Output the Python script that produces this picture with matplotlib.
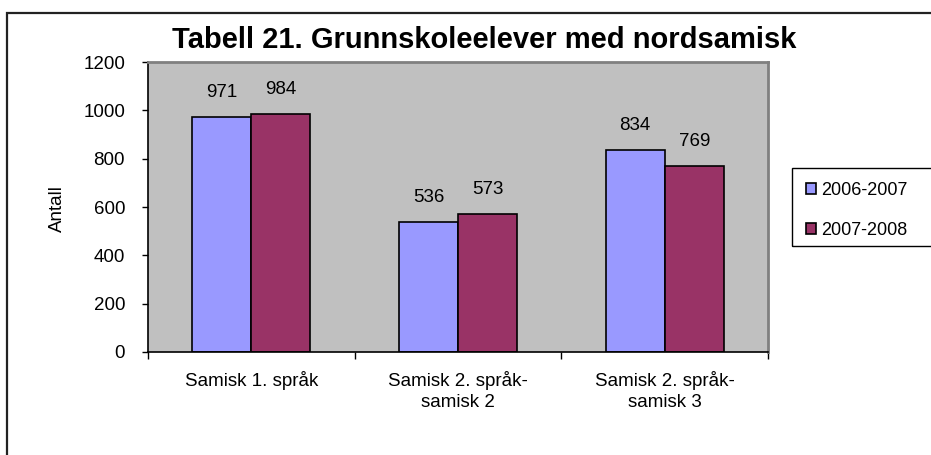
import matplotlib
matplotlib.use("Agg")
import matplotlib.pyplot as plt
import matplotlib.patches as mpatches
import numpy as np

categories = ["Samisk 1. språk", "Samisk 2. språk-\nsamisk 2", "Samisk 2. språk-\nsamisk 3"]
series_names = ["2006-2007", "2007-2008"]
values_0607 = [971, 536, 834]
values_0708 = [984, 573, 769]
yticks = [0, 200, 400, 600, 800, 1000, 1200]
title = "Tabell 21. Grunnskoleelever med nordsamisk"
ylabel = "Antall"

plt.rcParams['font.family'] = ['Liberation Sans', 'DejaVu Sans']

W, H = 931, 455
fig = plt.figure(figsize=(W / 100, H / 100), dpi=100)
fig.patch.set_facecolor('white')

ax = fig.add_axes([148 / W, 1 - 352 / H, (768 - 148) / W, (352 - 62) / H])
ax.set_facecolor('#C0C0C0')

x = np.arange(len(categories))
bw = 1 / 3.5
colors = ['#9999FF', '#993366']
b1 = ax.bar(x - bw / 2, values_0607, bw, color=colors[0], edgecolor='black', linewidth=1.2, label=series_names[0])
b2 = ax.bar(x + bw / 2, values_0708, bw, color=colors[1], edgecolor='black', linewidth=1.2, label=series_names[1])

for bars in (b1, b2):
    for r in bars:
        ax.annotate(f"{int(r.get_height())}", (r.get_x() + r.get_width() / 2, r.get_height()),
                    xytext=(0, 11.5), textcoords='offset points', ha='center', va='bottom', fontsize=13.5)

ax.set_xlim(-0.5, len(categories) - 0.5)
ax.set_ylim(0, 1200)
ax.set_yticks(yticks)
ax.set_yticklabels([str(t) for t in yticks], fontsize=13.5)
ax.tick_params(axis='y', direction='out', length=4.5, width=1, pad=12)

ax.set_xticks(np.arange(len(categories) + 1) - 0.5)
ax.set_xticklabels([])
ax.tick_params(axis='x', which='major', direction='out', length=5, width=1)
ax.set_xticks(x, minor=True)
ax.set_xticklabels(categories, minor=True, fontsize=13.5, linespacing=1.3)
ax.tick_params(axis='x', which='minor', length=0, pad=14)

for s in ['left', 'bottom']:
    ax.spines[s].set_color('black')
    ax.spines[s].set_linewidth(1.2)
for s in ['top', 'right']:
    ax.spines[s].set_color('#808080')
    ax.spines[s].set_linewidth(2)

fig.text(484 / W, 1 - 40 / H, title, ha='center', va='center', fontsize=21, fontweight='bold')
fig.text(57 / W, 1 - 209 / H, ylabel, ha='center', va='center', rotation=90, fontsize=13.5)

# Legend frame
fig.patches.append(mpatches.Rectangle((792 / W, 1 - 246 / H), (960 - 792) / W, (246 - 168) / H,
                                      transform=fig.transFigure, fill=False, edgecolor='black',
                                      linewidth=1, clip_on=False))
leg = fig.legend(handles=[b1, b2], labels=series_names, loc='upper left',
                 bbox_to_anchor=(802 / W, 1 - 178 / H), frameon=False, fontsize=13,
                 handlelength=0.55, handleheight=0.55, handletextpad=0.3, labelspacing=1.3,
                 borderpad=0.2, borderaxespad=0)

# Outer border
fig.patches.append(mpatches.Rectangle((7 / W, -0.05), 1.1, 1 - 13 / H + 0.05,
                                      transform=fig.transFigure, fill=False, edgecolor='#222222',
                                      linewidth=1.6, clip_on=False))

fig.savefig("out.png", dpi=100)
